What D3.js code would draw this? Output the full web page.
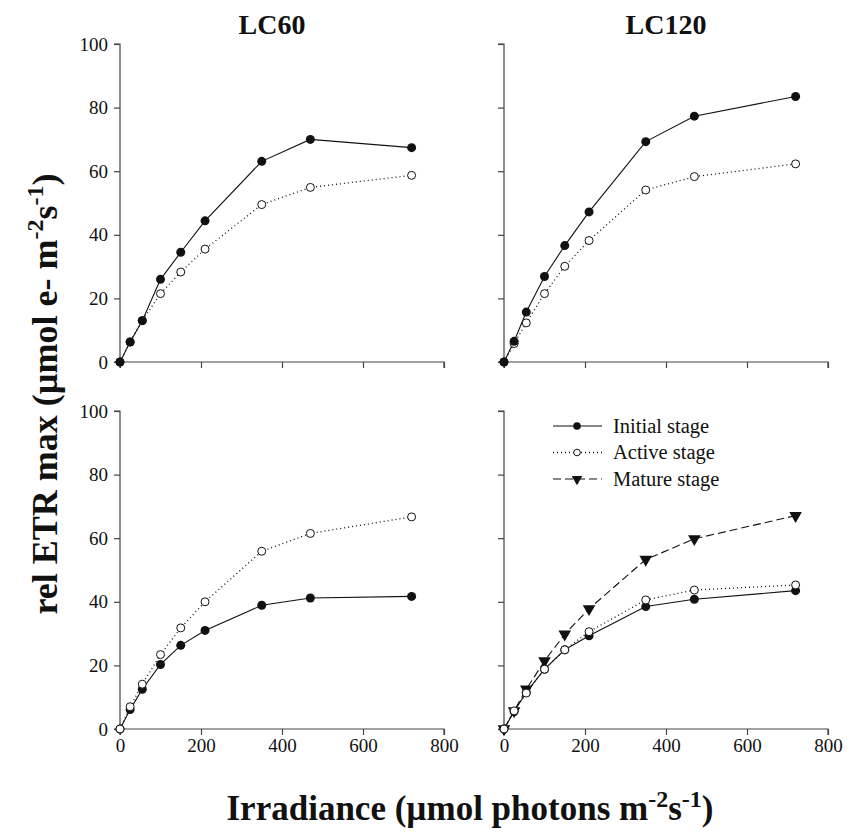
<!DOCTYPE html>
<html>
<head>
<meta charset="utf-8">
<script src="https://cdn.jsdelivr.net/npm/d3@7"></script>
<style>
  body { margin: 0; background: #fff; }
  svg text { font-family: "Liberation Serif", "Times New Roman", serif; fill: #111; }
</style>
</head>
<body>
<div id="chart"></div>
<script>
// irradiance steps of the light curve
const irradiance = [0, 25, 55, 100, 150, 210, 350, 470, 720];

// rel ETR max values
const lc60Initial  = [0, 6.3, 13.0, 26.0, 34.5, 44.4, 63.1, 70.0, 67.4];
const lc60Active   = [0, 6.3, 13.0, 21.5, 28.3, 35.5, 49.5, 54.9, 58.7];
const lc120Initial = [0, 6.5, 15.7, 26.9, 36.6, 47.2, 69.3, 77.3, 83.5];
const lc120Active  = [0, 5.8, 12.3, 21.5, 30.1, 38.2, 54.1, 58.3, 62.3];
const lc60bInitial = [0, 6.1, 12.5, 20.3, 26.3, 31.0, 38.9, 41.2, 41.7];
const lc60bActive  = [0, 7.0, 14.1, 23.4, 31.8, 40.0, 55.9, 61.5, 66.7];
const lc120bInitial = [0, 5.5, 11.5, 18.8, 24.9, 29.3, 38.5, 40.8, 43.5];
const lc120bActive  = [0, 5.7, 11.3, 18.8, 24.9, 30.6, 40.6, 43.7, 45.3];
const lc120bMature  = [0, 5.7, 12.5, 21.4, 29.8, 37.8, 53.3, 59.8, 67.1];

const xTicks = [0, 200, 400, 600, 800];
const yTicks = [0, 20, 40, 60, 80, 100];
const stages = ["Initial stage", "Active stage", "Mature stage"];

const styles = {
  "Initial stage": { dash: null, marker: "filled" },
  "Active stage":  { dash: "1,3", marker: "open" },
  "Mature stage":  { dash: "8,4", marker: "triangle" }
};

const panels = [
  { col: 0, row: 0, title: "LC60",  series: [["Active stage", lc60Active], ["Initial stage", lc60Initial]] },
  { col: 1, row: 0, title: "LC120", series: [["Active stage", lc120Active], ["Initial stage", lc120Initial]] },
  { col: 0, row: 1, series: [["Initial stage", lc60bInitial], ["Active stage", lc60bActive]] },
  { col: 1, row: 1, series: [["Mature stage", lc120bMature], ["Initial stage", lc120bInitial], ["Active stage", lc120bActive]] , legend: true }
];

const width = 858, height = 834;
const colX = [120, 504], rowY = [44, 411];
const pw = 324, ph = 318;
const serif = '"Liberation Serif", "Times New Roman", serif';

const svg = d3.select("#chart").append("svg")
    .attr("width", width)
    .attr("height", height);

function drawMarker(g, type, x, y, r) {
  if (type === "filled") {
    g.append("circle").attr("cx", x).attr("cy", y).attr("r", r).attr("fill", "#111");
  } else if (type === "open") {
    g.append("circle").attr("cx", x).attr("cy", y).attr("r", r - 0.5)
      .attr("fill", "#fff").attr("stroke", "#111").attr("stroke-width", 1);
  } else {
    g.append("path")
      .attr("d", d3.symbol().type(d3.symbolTriangle).size(r * r * 3.4)())
      .attr("transform", `translate(${x},${y}) rotate(180)`)
      .attr("fill", "#111");
  }
}

panels.forEach(p => {
  const g = svg.append("g").attr("transform", `translate(${colX[p.col]},${rowY[p.row]})`);
  const x = d3.scaleLinear().domain([0, 800]).range([0, pw]);
  const y = d3.scaleLinear().domain([0, 100]).range([ph, 0]);

  const xAxis = g.append("g").attr("transform", `translate(0,${ph})`)
    .call(d3.axisBottom(x).tickValues(xTicks).tickSize(6).tickPadding(4)
      .tickFormat(p.row === 1 ? d3.format("d") : ""));
  const yAxis = g.append("g")
    .call(d3.axisLeft(y).tickValues(yTicks).tickSize(6).tickPadding(6)
      .tickFormat(p.col === 0 ? d3.format("d") : ""));
  [xAxis, yAxis].forEach(a => {
    a.attr("font-family", null);
    a.select(".domain").attr("stroke", "#444").attr("stroke-width", 1.2);
    a.selectAll(".tick line").attr("stroke", "#444").attr("stroke-width", 1.2);
    a.selectAll(".tick text").style("font-family", serif)
      .style("font-size", "19px").attr("fill", "#222");
  });
  xAxis.select(".domain").attr("d", `M0,6V0H${pw}V6`);
  yAxis.select(".domain").attr("d", `M-6,0H0V${ph}H-6`);

  if (p.title) {
    g.append("text")
      .attr("x", pw / 2 + (p.col === 0 ? -10 : 0))
      .attr("y", -10)
      .attr("text-anchor", "middle")
      .attr("font-weight", "bold")
      .attr("font-size", 28)
      .text(p.title);
  }

  const line = d3.line().x((d, i) => x(irradiance[i])).y(d => y(d));

  p.series.forEach(([name, vals]) => {
    const st = styles[name];
    g.append("path")
      .datum(vals)
      .attr("d", line)
      .attr("fill", "none")
      .attr("stroke", "#111")
      .attr("stroke-width", st.dash === "1,3" ? 1.3 : 1.1)
      .attr("stroke-dasharray", st.dash);
  });
  p.series.forEach(([name, vals]) => {
    const st = styles[name];
    vals.forEach((v, i) => drawMarker(g, st.marker, x(irradiance[i]), y(v), 4.5));
  });

  if (p.legend) {
    const lg = g.append("g").attr("transform", "translate(49,15)");
    stages.forEach((s, i) => {
      const st = styles[s];
      const row = lg.append("g").attr("transform", `translate(0,${i * 26.5})`);
      row.append("line").attr("x1", 0).attr("x2", 49).attr("y1", 0).attr("y2", 0)
        .attr("stroke", "#111").attr("stroke-width", st.dash === "1,3" ? 1.3 : 1.1)
        .attr("stroke-dasharray", st.dash);
      drawMarker(row, st.marker, 24, 0, 3.8);
      row.append("text").attr("x", 60).attr("y", 0).attr("dy", "0.33em")
        .attr("font-size", 20.5).text(s);
    });
  }
});

// y axis title
const yt = svg.append("text")
  .attr("transform", "translate(57,394) rotate(-90)")
  .attr("text-anchor", "middle")
  .attr("font-weight", "bold")
  .attr("font-size", 36);
yt.append("tspan").text("rel ETR max (\u00b5mol e- m");
yt.append("tspan").attr("dy", -14).attr("font-size", 24).text("-2");
yt.append("tspan").attr("dy", 14).text("s");
yt.append("tspan").attr("dy", -14).attr("font-size", 24).text("-1");
yt.append("tspan").attr("dy", 14).text(")");

// x axis title
const xt = svg.append("text")
  .attr("x", 470).attr("y", 820)
  .attr("text-anchor", "middle")
  .attr("font-weight", "bold")
  .attr("font-size", 35);
xt.append("tspan").text("Irradiance (\u00b5mol photons m");
xt.append("tspan").attr("dy", -13).attr("font-size", 24).text("-2");
xt.append("tspan").attr("dy", 13).text("s");
xt.append("tspan").attr("dy", -13).attr("font-size", 24).text("-1");
xt.append("tspan").attr("dy", 13).text(")");
</script>
</body>
</html>
